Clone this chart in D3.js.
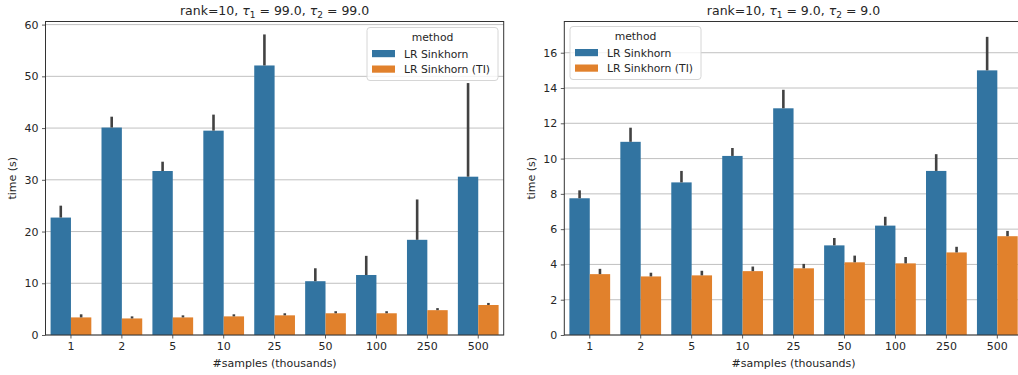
<!DOCTYPE html>
<html>
<head>
<meta charset="utf-8">
<script src="https://cdn.jsdelivr.net/npm/d3@7"></script>
<style>
  body { margin: 0; background: #fff; }
  svg { display: block; font-family: "DejaVu Sans", sans-serif; }
</style>
</head>
<body>
<div id="chart"></div>
<script>
// categories and series
const categories = ['1', '2', '5', '10', '25', '50', '100', '250', '500'];
const methods = ['LR Sinkhorn', 'LR Sinkhorn (TI)'];
const colors = ['#3274a1', '#e1812c'];

// left panel: tau = 99.0
const leftSinkhorn = [22.7, 40.1, 31.7, 39.5, 52.1, 10.4, 11.6, 18.4, 30.6];
const leftSinkhornErr = [25.0, 42.2, 33.5, 42.6, 58.1, 12.9, 15.3, 26.2, 48.7];
const leftTI = [3.4, 3.2, 3.4, 3.6, 3.8, 4.2, 4.2, 4.8, 5.8];
const leftTIErr = [4.0, 3.6, 3.8, 4.0, 4.2, 4.6, 4.6, 5.2, 6.2];
const leftTicks = [0, 10, 20, 30, 40, 50, 60];

// right panel: tau = 9.0
const rightSinkhorn = [7.75, 10.95, 8.65, 10.15, 12.85, 5.08, 6.2, 9.3, 15.0];
const rightSinkhornErr = [8.2, 11.75, 9.3, 10.6, 13.9, 5.5, 6.7, 10.25, 16.9];
const rightTI = [3.45, 3.32, 3.38, 3.62, 3.78, 4.12, 4.06, 4.68, 5.6];
const rightTIErr = [3.75, 3.53, 3.64, 3.88, 4.03, 4.5, 4.42, 5.0, 5.9];
const rightTicks = [0, 2, 4, 6, 8, 10, 12, 14, 16];

const svg = d3.select('#chart').append('svg')
  .attr('width', 1018)
  .attr('height', 375);

function drawPanel(opts) {
  const { left, right, top, bottom, ymax, ticks, values, errs, tau, legend } = opts;
  const g = svg.append('g');

  const x = d3.scaleBand().domain(categories).range([left, right])
    .paddingInner(0.2).paddingOuter(0.1);
  const xm = d3.scaleBand().domain(methods).range([0, x.bandwidth()]);
  const y = d3.scaleLinear().domain([0, ymax]).range([bottom, top]);

  // horizontal grid
  g.append('g').selectAll('line').data(ticks).join('line')
    .attr('x1', left).attr('x2', right)
    .attr('y1', d => y(d)).attr('y2', d => y(d))
    .attr('stroke', '#b0b0b0').attr('stroke-width', 0.8);

  const rows = [];
  categories.forEach((c, i) => {
    methods.forEach((m, j) => {
      rows.push({ c, m, j, v: values[j][i], hi: errs[j][i] });
    });
  });

  // bars
  g.append('g').selectAll('rect').data(rows).join('rect')
    .attr('x', d => x(d.c) + xm(d.m))
    .attr('y', d => y(d.v))
    .attr('width', xm.bandwidth())
    .attr('height', d => y(0) - y(d.v))
    .attr('fill', d => colors[d.j]);

  // error bars
  g.append('g').selectAll('line').data(rows).join('line')
    .attr('x1', d => x(d.c) + xm(d.m) + xm.bandwidth() / 2)
    .attr('x2', d => x(d.c) + xm(d.m) + xm.bandwidth() / 2)
    .attr('y1', d => y(d.v))
    .attr('y2', d => y(d.hi))
    .attr('stroke', '#424242').attr('stroke-width', 2.6);

  // axes
  const yAxis = g.append('g')
    .attr('transform', `translate(${left},0)`)
    .call(d3.axisLeft(y).tickValues(ticks).tickSize(3.5).tickPadding(3.5).tickFormat(d3.format('d')));
  const xAxis = g.append('g')
    .attr('transform', `translate(0,${bottom})`)
    .call(d3.axisBottom(x).tickSize(3.5).tickPadding(3.5));
  [yAxis, xAxis].forEach(a => {
    a.select('.domain').remove();
    a.selectAll('line').attr('stroke', '#333').attr('stroke-width', 0.8);
    a.selectAll('text').attr('fill', '#262626').style('font-size', '11px')
      .style('font-family', '"DejaVu Sans", sans-serif');
  });

  // frame
  g.append('rect')
    .attr('x', left).attr('y', top)
    .attr('width', right - left).attr('height', bottom - top)
    .attr('fill', 'none').attr('stroke', '#333').attr('stroke-width', 1);

  // labels
  g.append('text')
    .attr('x', (left + right) / 2).attr('y', 367)
    .attr('text-anchor', 'middle').attr('fill', '#262626')
    .style('font-size', '11px')
    .text('#samples (thousands)');

  g.append('text')
    .attr('transform', `translate(${opts.ylabelX},${(top + bottom) / 2}) rotate(-90)`)
    .attr('text-anchor', 'middle').attr('fill', '#262626')
    .style('font-size', '11px')
    .text('time (s)');

  const title = g.append('text')
    .attr('x', (left + right) / 2).attr('y', 15)
    .attr('text-anchor', 'middle').attr('fill', '#262626')
    .style('font-size', '12.5px');
  title.append('tspan').text('rank=10, ');
  title.append('tspan').style('font-style', 'italic').text('τ');
  title.append('tspan').attr('dy', 2.5).style('font-size', '9px').text('1');
  title.append('tspan').attr('dy', -2.5).text(` = ${tau}, `);
  title.append('tspan').style('font-style', 'italic').text('τ');
  title.append('tspan').attr('dy', 2.5).style('font-size', '9px').text('2');
  title.append('tspan').attr('dy', -2.5).text(` = ${tau}`);

  // legend
  const lg = g.append('g').attr('transform', `translate(${legend.x},${legend.y})`);
  lg.append('rect')
    .attr('width', 131).attr('height', 53).attr('rx', 3)
    .attr('fill', 'rgba(255,255,255,0.8)').attr('stroke', '#d6d6d6');
  lg.append('text')
    .attr('x', 65.5).attr('y', 13)
    .attr('text-anchor', 'middle').attr('fill', '#262626')
    .style('font-size', '10.8px').text('method');
  methods.forEach((m, j) => {
    lg.append('rect')
      .attr('x', 5).attr('y', 22.5 + j * 15.5)
      .attr('width', 23).attr('height', 7.2)
      .attr('fill', colors[j]);
    lg.append('text')
      .attr('x', 37).attr('y', 30 + j * 15.5)
      .attr('fill', '#262626')
      .style('font-size', '10.8px').text(m);
  });
}

drawPanel({
  left: 45.5, right: 503.7, top: 21.5, bottom: 335, ymax: 60.6,
  ticks: leftTicks, values: [leftSinkhorn, leftTI], errs: [leftSinkhornErr, leftTIErr],
  tau: '99.0', ylabelX: 16, legend: { x: 367, y: 27.5 }
});

drawPanel({
  left: 564.3, right: 1022.8, top: 21.5, bottom: 335, ymax: 17.77,
  ticks: rightTicks, values: [rightSinkhorn, rightTI], errs: [rightSinkhornErr, rightTIErr],
  tau: '9.0', ylabelX: 535, legend: { x: 570, y: 26.5 }
});
</script>
</body>
</html>
